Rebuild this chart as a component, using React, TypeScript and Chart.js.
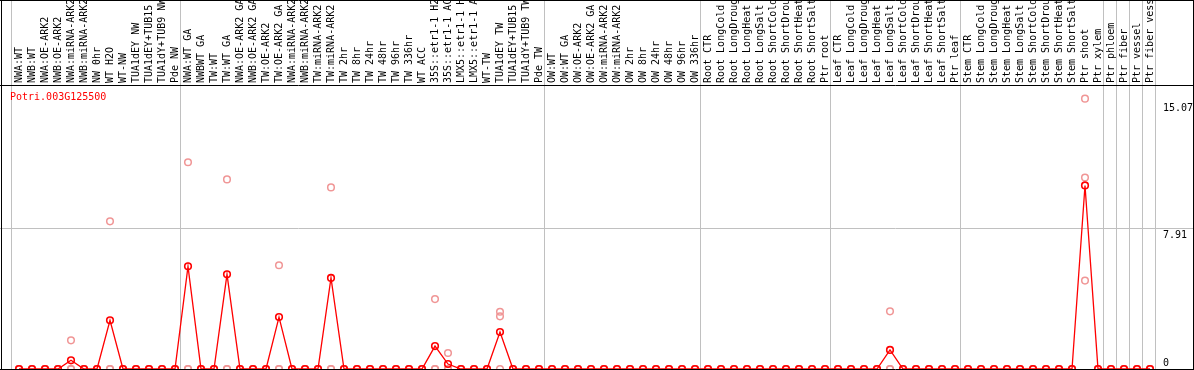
import React, { useEffect, useRef } from "react";
import { Chart, registerables } from "chart.js";

Chart.register(...registerables);

const geneId = "Potri.003G125500";

const categories = [
  "NWA:WT", "NWB:WT", "NWA:OE-ARK2", "NWB:OE-ARK2", "NWA:miRNA-ARK2", "NWB:miRNA-ARK2", "NW 0hr", "WT H2O", "WT-NW", "TUA1dEY NW", "TUA1dEY+TUB15 NW", "TUA1dY+TUB9 NW", "Pde NW",
  "NWA:WT GA", "NWBWT GA", "TW:WT", "TW:WT GA", "NWA:OE-ARK2 GA", "NWB:OE-ARK2 GA", "TW:OE-ARK2", "TW:OE-ARK2 GA", "NWA:miRNA-ARK2 GA", "NWB:miRNA-ARK2 GA", "TW:miRNA-ARK2", "TW:miRNA-ARK2 GA", "TW 2hr", "TW 8hr", "TW 24hr", "TW 48hr", "TW 96hr", "TW 336hr", "WT ACC", "35S::etr1-1 H2O", "35S::etr1-1 ACC", "LMX5::etr1-1 H2O", "LMX5::etr1-1 ACC", "WT-TW", "TUA1dEY TW", "TUA1dEY+TUB15 TW", "TUA1dY+TUB9 TW", "Pde TW",
  "OW:WT", "OW:WT GA", "OW:OE-ARK2", "OW:OE-ARK2 GA", "OW:miRNA-ARK2", "OW:miRNA-ARK2 GA", "OW 2hr", "OW 8hr", "OW 24hr", "OW 48hr", "OW 96hr", "OW 336hr",
  "Root CTR", "Root LongCold", "Root LongDrought", "Root LongHeat", "Root LongSalt", "Root ShortCold", "Root ShortDrought", "Root ShortHeat", "Root ShortSalt", "Ptr root",
  "Leaf CTR", "Leaf LongCold", "Leaf LongDrought", "Leaf LongHeat", "Leaf LongSalt", "Leaf ShortCold", "Leaf ShortDrought", "Leaf ShortHeat", "Leaf ShortSalt", "Ptr leaf",
  "Stem CTR", "Stem LongCold", "Stem LongDrought", "Stem LongHeat", "Stem LongSalt", "Stem ShortCold", "Stem ShortDrought", "Stem ShortHeat", "Stem ShortSalt", "Ptr shoot",
  "Ptr xylem", "Ptr phloem", "Ptr fiber", "Ptr vessel", "Ptr fiber vessel",
];

// index where each group begins (separator lines drawn just before them)
const groupStarts = [0, 13, 41, 53, 63, 73, 84, 85, 86, 87, 88];

const meanValues = [
  0, 0, 0, 0, 0.49, 0, 0, 2.74, 0, 0, 0, 0, 0,
  5.77, 0, 0, 5.32, 0, 0, 0, 2.92, 0, 0, 0, 5.12, 0, 0, 0, 0, 0, 0, 0, 1.29, 0.28, 0, 0, 0, 2.08, 0, 0, 0,
  0, 0, 0, 0, 0, 0, 0, 0, 0, 0, 0, 0,
  0, 0, 0, 0, 0, 0, 0, 0, 0, 0,
  0, 0, 0, 0, 1.07, 0, 0, 0, 0, 0,
  0, 0, 0, 0, 0, 0, 0, 0, 0, 10.32,
  0, 0, 0, 0, 0,
];

const replicate1 = [
  0, 0, 0, 0, 1.61, 0, 0, 8.3, 0, 0, 0, 0, 0,
  11.62, 0, 0, 10.66, 0, 0, 0, 5.83, 0, 0, 0, 10.21, 0, 0, 0, 0, 0, 0, 0, 3.93, 0.9, 0, 0, 0, 3.22, 0, 0, 0,
  0, 0, 0, 0, 0, 0, 0, 0, 0, 0, 0, 0,
  0, 0, 0, 0, 0, 0, 0, 0, 0, 0,
  0, 0, 0, 0, 3.24, 0, 0, 0, 0, 0,
  0, 0, 0, 0, 0, 0, 0, 0, 0, 15.2,
  0, 0, 0, 0, 0,
];

const replicate2 = [
  0, 0, 0, 0, 0, 0, 0, 0, 0, 0, 0, 0, 0,
  0, 0, 0, 0, 0, 0, 0, 0, 0, 0, 0, 0, 0, 0, 0, 0, 0, 0, 0, 0, 0, 0, 0, 0, 2.96, 0, 0, 0,
  0, 0, 0, 0, 0, 0, 0, 0, 0, 0, 0, 0,
  0, 0, 0, 0, 0, 0, 0, 0, 0, 0,
  0, 0, 0, 0, 0, 0, 0, 0, 0, 0,
  0, 0, 0, 0, 0, 0, 0, 0, 0, 10.77,
  0, 0, 0, 0, 0,
];

const replicate3 = [
  0, 0, 0, 0, 0, 0, 0, 0, 0, 0, 0, 0, 0,
  0, 0, 0, 0, 0, 0, 0, 0, 0, 0, 0, 0, 0, 0, 0, 0, 0, 0, 0, 0, 0, 0, 0, 0, 0, 0, 0, 0,
  0, 0, 0, 0, 0, 0, 0, 0, 0, 0, 0, 0,
  0, 0, 0, 0, 0, 0, 0, 0, 0, 0,
  0, 0, 0, 0, 0, 0, 0, 0, 0, 0,
  0, 0, 0, 0, 0, 0, 0, 0, 0, 4.97,
  0, 0, 0, 0, 0,
];

const yTickValues = [0, 7.91, 15.07];
const yTickLabels = ["0", "7.91", "15.07"];
const yGridValues = [7.91];

const W = 1194;
const H = 370;
const PAD = { left: 1, right: 1, top: 85, bottom: 1 };
const CAT_PX = 13;
const FIRST_PX = 19;
const X_MIN = -(FIRST_PX - PAD.left) / CAT_PX;
const X_MAX = X_MIN + (W - PAD.left - PAD.right) / CAT_PX;
const Y_MAX = 15.967;

const FONT = '10px "DejaVu Sans Mono", monospace';
const RED = "rgb(255,0,0)";
const PINK = "rgb(240,150,150)";
const GRID = "#c0c0c0";

const toXY = (arr: number[]) => arr.map((v, i) => ({ x: i, y: v }));

export default function App() {
  const ref = useRef<HTMLCanvasElement>(null);

  useEffect(() => {
    const canvas = ref.current;
    if (!canvas) return;

    const overlay = {
      id: "overlay",
      beforeDatasetsDraw(chart: any) {
        const ctx = chart.ctx as CanvasRenderingContext2D;
        const xs = chart.scales.x;
        const ys = chart.scales.y;
        const area = chart.chartArea;
        ctx.save();
        ctx.strokeStyle = GRID;
        ctx.lineWidth = 1;
        for (const s of groupStarts) {
          const px = Math.round(xs.getPixelForValue(s - 0.6)) + 0.5;
          ctx.beginPath();
          ctx.moveTo(px, 0);
          ctx.lineTo(px, area.bottom);
          ctx.stroke();
        }
        for (const g of yGridValues) {
          const py = Math.round(ys.getPixelForValue(g)) + 0.5;
          ctx.beginPath();
          ctx.moveTo(0, py);
          ctx.lineTo(W, py);
          ctx.stroke();
        }
        ctx.restore();
      },
      afterDraw(chart: any) {
        const ctx = chart.ctx as CanvasRenderingContext2D;
        const xs = chart.scales.x;
        const ys = chart.scales.y;
        const area = chart.chartArea;
        ctx.save();
        // header category labels (rotated)
        ctx.beginPath();
        ctx.rect(0, 0, W, area.top);
        ctx.clip();
        ctx.font = FONT;
        ctx.fillStyle = "#000";
        ctx.textAlign = "left";
        ctx.textBaseline = "middle";
        categories.forEach((c, i) => {
          const px = xs.getPixelForValue(i);
          ctx.save();
          ctx.translate(px, area.top - 2);
          ctx.rotate(-Math.PI / 2);
          ctx.fillText(c, 0, 0);
          ctx.restore();
        });
        ctx.restore();

        ctx.save();
        // frame lines
        ctx.strokeStyle = "#000";
        ctx.lineWidth = 1;
        ctx.beginPath();
        ctx.moveTo(0, 0.5);
        ctx.lineTo(W, 0.5);
        ctx.moveTo(0, area.top + 0.5);
        ctx.lineTo(W, area.top + 0.5);
        ctx.moveTo(0, area.bottom + 0.5);
        ctx.lineTo(W, area.bottom + 0.5);
        ctx.moveTo(1.5, 0);
        ctx.lineTo(1.5, H);
        ctx.moveTo(W - 0.5, 0);
        ctx.lineTo(W - 0.5, H);
        ctx.stroke();

        // gene id
        ctx.font = FONT;
        ctx.fillStyle = RED;
        ctx.textAlign = "left";
        ctx.textBaseline = "alphabetic";
        ctx.fillText(geneId, 10, area.top + 15);

        // value labels on the right
        ctx.fillStyle = "#000";
        yTickValues.forEach((v, i) => {
          const py = ys.getPixelForValue(v);
          ctx.textBaseline = "alphabetic";
          if (v === 0) {
            ctx.fillText(yTickLabels[i], 1163, py - 3);
          } else {
            ctx.fillText(yTickLabels[i], 1163, py + 10);
          }
        });
        ctx.restore();
      },
    };

    const repStyle = {
      showLine: false,
      pointRadius: 3.3,
      pointBorderWidth: 1.5,
      pointBorderColor: PINK,
      pointBackgroundColor: "rgba(0,0,0,0)",
      borderColor: PINK,
      clip: false as any,
    };

    const chart = new Chart(canvas, {
      type: "line",
      data: {
        datasets: [
          {
            label: "mean",
            data: toXY(meanValues),
            borderColor: RED,
            borderWidth: 1.3,
            pointRadius: 3.3,
            pointBorderWidth: 1.6,
            pointBorderColor: RED,
            pointBackgroundColor: "rgba(0,0,0,0)",
            tension: 0,
            clip: false as any,
          },
          { label: "rep1", data: toXY(replicate1), ...repStyle },
          { label: "rep2", data: toXY(replicate2), ...repStyle },
          { label: "rep3", data: toXY(replicate3), ...repStyle },
        ],
      },
      options: {
        animation: false,
        responsive: false,
        devicePixelRatio: 1,
        events: [],
        layout: { padding: PAD, autoPadding: false },
        plugins: {
          legend: { display: false },
          tooltip: { enabled: false },
          title: { display: false },
        },
        scales: {
          x: { type: "linear", min: X_MIN, max: X_MAX, display: false },
          y: { type: "linear", min: 0, max: Y_MAX, display: false },
        },
      },
      plugins: [overlay],
    });

    return () => chart.destroy();
  }, []);

  return (
    <div style={{ position: "absolute", left: 0, top: 0, width: W, height: H, background: "#fff" }}>
      <canvas ref={ref} width={W} height={H} style={{ display: "block", width: W, height: H }} />
    </div>
  );
}
